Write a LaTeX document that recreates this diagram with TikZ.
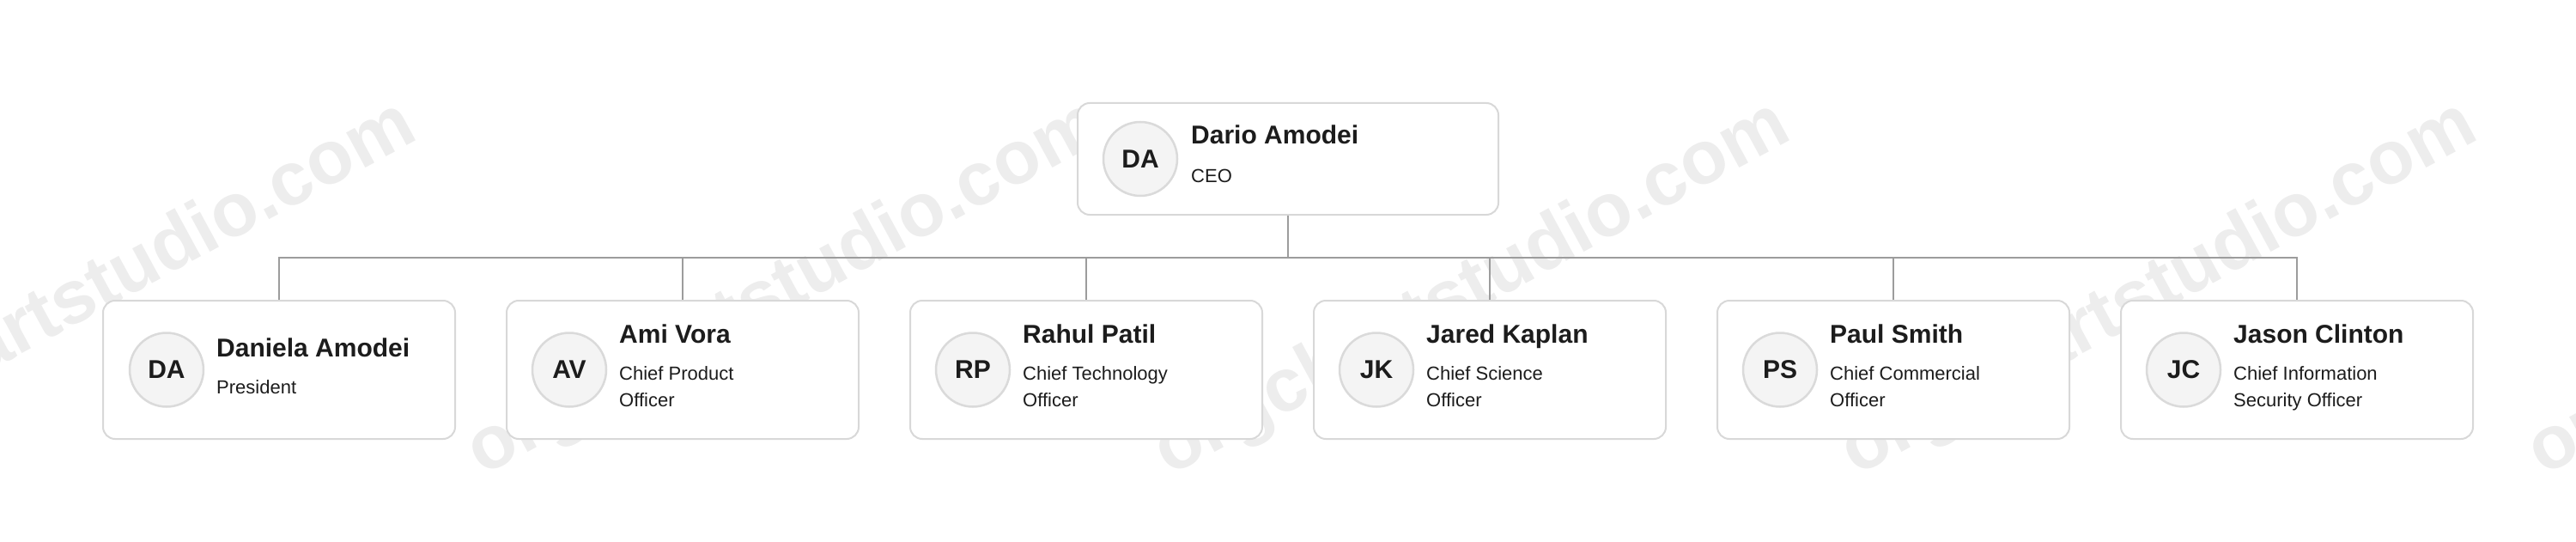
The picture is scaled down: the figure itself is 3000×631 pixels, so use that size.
\documentclass[tikz,border=0pt]{standalone}
\usepackage{fontspec}
\setmainfont{Liberation Sans}
\definecolor{boxline}{HTML}{D8D8D8}
\definecolor{connline}{HTML}{9C9C9C}
\definecolor{avfill}{HTML}{F4F4F4}
\definecolor{avline}{HTML}{DADADA}
\definecolor{ink}{HTML}{1C1C1C}
\definecolor{wmcol}{HTML}{EDEDED}
\begin{document}
\begin{tikzpicture}[x=1pt,y=-1pt,
  card/.style={draw=boxline, line width=2pt, rounded corners=14pt, fill=white,
    minimum width=410pt, minimum height=161pt, inner sep=0pt},
  topcard/.style={card, minimum width=490pt, minimum height=130pt},
  avatar/.style={circle, draw=avline, line width=2.5pt, fill=avfill, minimum size=86pt,
    inner sep=0pt, text=ink, font=\bfseries\fontsize{30}{36}\selectfont},
  pname/.style={anchor=base west, inner sep=0pt, text=ink, font=\bfseries\fontsize{30}{36}\selectfont},
  prole/.style={anchor=base west, inner sep=0pt, text=ink, font=\fontsize{22}{26}\selectfont},
  conn/.style={draw=connline, line width=2pt},
  wmark/.style={rotate=28.5, text=wmcol, inner sep=0pt,
    font=\bfseries\fontsize{88}{100}\selectfont}]
\useasboundingbox (0,0) rectangle (3000,631);

% watermarks (behind everything)
\foreach \wx in {115,915,1715,2515,3315}{
  \node[wmark] at (\wx,338) {orgchartstudio.com};
}

% top card
\node[topcard] (ceo) at (1500,185) {};
\node[avatar] (ceoav) at (1328,185) {DA};
\node[pname] (ceon) at (1387,168) {Dario Amodei};
\node[prole] (ceor) at (1387,212) {CEO};

% child cards
\foreach \i/\cx in {1/325,2/795,3/1265,4/1735,5/2205,6/2675}{
  \node[card] (c\i) at (\cx,430.5) {};
}
\node[avatar] (a1) at (194,430.5) {DA};
\node[pname] (n1) at (252,415) {Daniela Amodei};
\node[prole] (r1) at (252,458) {President};

\foreach \i/\lx/\ini/\nm/\la/\lb in {
  2/589/AV/Ami Vora/Chief Product/Officer,
  3/1059/RP/Rahul Patil/Chief Technology/Officer,
  4/1529/JK/Jared Kaplan/Chief Science/Officer,
  5/1999/PS/Paul Smith/Chief Commercial/Officer,
  6/2469/JC/Jason Clinton/Chief Information/Security Officer}{
  \node[avatar] (a\i) at (\lx+74,430.5) {\ini};
  \node[pname] (n\i) at (\lx+132,399) {\nm};
  \node[prole] (r\i) at (\lx+132,442) {\la};
  \node[prole] (s\i) at (\lx+132,473) {\lb};
}

% connectors
\coordinate (bus) at (1500,300);
\draw[conn] (ceo.south) -- (bus);
\foreach \i in {1,...,6}{
  \draw[conn] (bus) -| (c\i.north);
}
\end{tikzpicture}
\end{document}
